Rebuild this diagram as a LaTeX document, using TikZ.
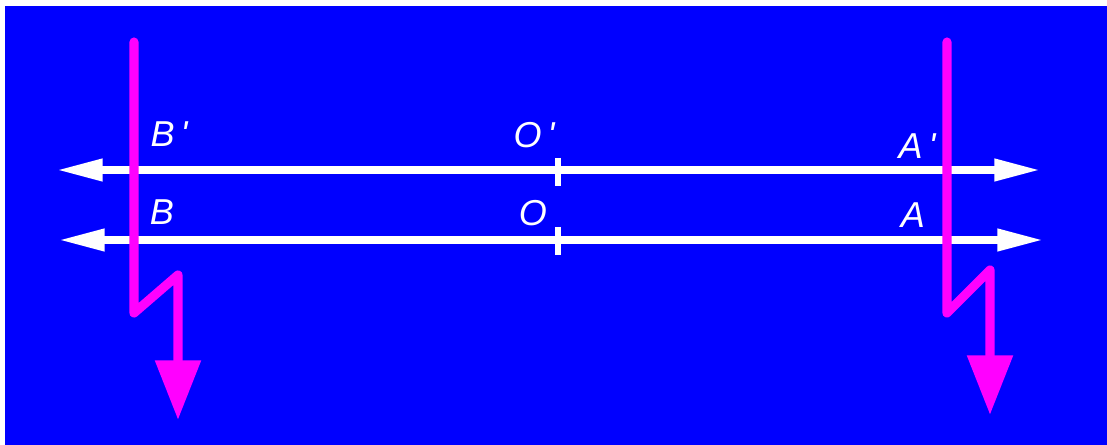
\documentclass[tikz,border=0pt]{standalone}
\usepackage{fontspec}
\setmainfont{Liberation Sans}
\usetikzlibrary{arrows.meta}
\definecolor{bgblue}{RGB}{0,0,255}
\definecolor{raymag}{RGB}{255,0,255}
\newcommand{\pr}{\,\textquotesingle}
\tikzset{
  axisline/.style={white,line width=4pt,{Triangle[length=26pt,width=12pt]}-{Triangle[length=26pt,width=12pt]}},
  tickmark/.style={white,line width=3.4pt},
  ray/.style={raymag,line width=5.2pt,line join=round,line cap=round,-{Triangle[length=34pt,width=25pt]}},
  lbl/.style={text=white,font=\fontsize{20.5}{24}\selectfont\itshape,inner sep=0pt}
}
\begin{document}
\begin{tikzpicture}[x=0.02cm,y=-0.02cm]
        \useasboundingbox(0,0)rectangle(1107,445);
        \fill[bgblue](5,6)rectangle(1107,445);
        \coordinate(Lp)at(57,170);
        \coordinate(Rp)at(1040,170);
        \coordinate(L)at(59,240);
        \coordinate(R)at(1043,240);
        \coordinate(Tp1)at(558,158);
        \coordinate(Tp2)at(558,186);
        \coordinate(T1)at(558,227);
        \coordinate(T2)at(558,255);
        \coordinate(Bs)at(134,42);
        \coordinate(Bk)at(134,313);
        \coordinate(Bt)at(178,275);
        \coordinate(Be)at(178,420);
        \coordinate(As)at(947,42);
        \coordinate(Ak)at(947,313);
        \coordinate(At)at(990,270);
        \coordinate(Ae)at(990,415);
        \draw[axisline](Lp)--(Rp);
        \draw[axisline](L)--(R);
        \draw[tickmark](Tp1)--(Tp2);
        \draw[tickmark](T1)--(T2);
        \draw[ray](Bs)--(Bk)--(Bt)--(Be);
        \draw[ray](As)--(Ak)--(At)--(Ae);
        \node[lbl](Bprime)at(169,134){B\pr};
        \node[lbl](B)at(162,212){B};
        \node[lbl](Oprime)at(534,135){O\pr};
        \node[lbl](O)at(533,213){O};
        \node[lbl](Aprime)at(917,146){A\pr};
        \node[lbl](A)at(913,215){A};
    \end{tikzpicture}
\end{document}
